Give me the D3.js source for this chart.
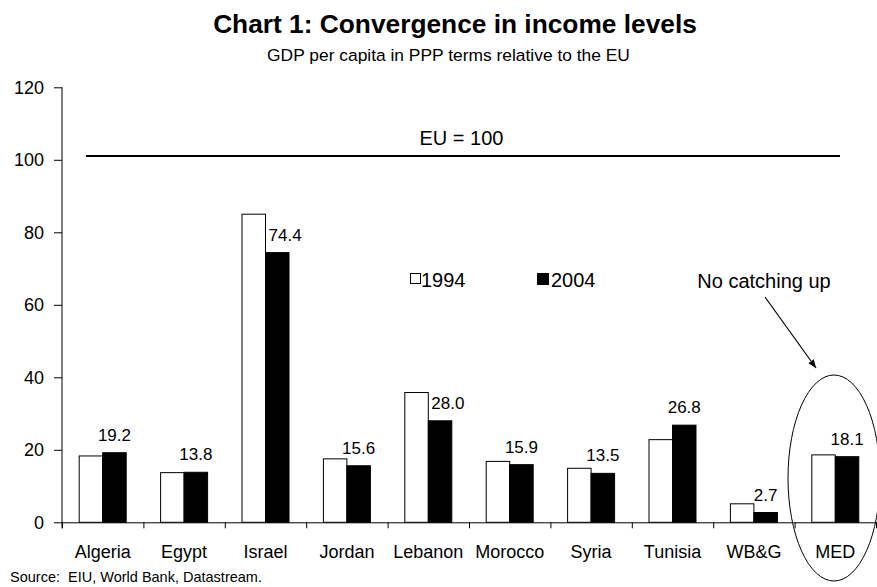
<!DOCTYPE html>
<html><head><meta charset="utf-8">
<script src="https://cdn.jsdelivr.net/npm/d3@7"></script>
<style>
body{margin:0;background:#fff}
text{font-family:"Liberation Sans",Arial,sans-serif;fill:#000}
</style>
</head><body>
<svg id="c" width="877" height="587"></svg>
<script>
const categories = ["Algeria","Egypt","Israel","Jordan","Lebanon","Morocco","Syria","Tunisia","WB&G","MED"];
const series = ["1994","2004"];
const values1994 = [18.3,13.7,85.0,17.5,35.8,16.8,14.9,22.8,5.1,18.6];
const values2004 = [19.2,13.8,74.4,15.6,28.0,15.9,13.5,26.8,2.7,18.1];
const yTicks = [0,20,40,60,80,100,120];
const euLevel = 100;
const euLabel = "EU = 100";
const titleText = "Chart 1: Convergence in income levels";
const subtitleText = "GDP per capita in PPP terms relative to the EU";
const sourceText = "Source:  EIU, World Bank, Datastream.";
const noteText = "No catching up";

const svg = d3.select("#c");
const x = d3.scaleBand().domain(categories).range([62, 876]).padding(0);
const xs = d3.scaleBand().domain(series).range([0, x.bandwidth()]).paddingInner(0).paddingOuter(0.732);
const y = d3.scaleLinear().domain([0, 120]).range([522.3, 87.3]);

// Title
svg.append("text").attr("x", 455).attr("y", 33).attr("text-anchor", "middle")
  .style("font-size", "26.3px").style("font-weight", "bold").text(titleText);
svg.append("text").attr("x", 448.5).attr("y", 61).attr("text-anchor", "middle")
  .style("font-size", "17.4px").text(subtitleText);

// Y axis
const yAxis = svg.append("g").attr("transform", "translate(62,0)")
  .call(d3.axisLeft(y).tickValues(yTicks).tickSize(8).tickPadding(10).tickSizeOuter(0));
yAxis.select(".domain").attr("d", `M0,${y(120)}V${y(0) + 6}`).attr("stroke", "#000");
yAxis.selectAll("text").style("font-size", "18px").style("font-family", '"Liberation Sans",Arial,sans-serif');

// X axis: boundary ticks
const bounds = d3.scaleLinear().domain([0, categories.length]).range([62, 876]);
const xAxis = svg.append("g").attr("transform", `translate(0,${y(0)})`)
  .call(d3.axisBottom(bounds).tickValues(d3.range(0, categories.length + 1)).tickSize(6).tickFormat("").tickSizeOuter(0));
xAxis.select(".domain").attr("stroke", "#000");
// category labels
const xLab = svg.append("g").attr("transform", `translate(0,${y(0)})`)
  .call(d3.axisBottom(x).tickSize(0).tickPadding(23));
xLab.select(".domain").remove();
xLab.selectAll("text").style("font-size", "18px").style("font-family", '"Liberation Sans",Arial,sans-serif');

// Bars
const rows = categories.map((c, i) => ({c, v1994: values1994[i], v2004: values2004[i]}));
const g = svg.append("g");
g.selectAll("rect.b94").data(rows).join("rect")
  .attr("x", d => x(d.c) + xs("1994")).attr("width", xs.bandwidth())
  .attr("y", d => y(d.v1994)).attr("height", d => y(0) - y(d.v1994))
  .attr("fill", "#fff").attr("stroke", "#000").attr("stroke-width", 1);
g.selectAll("rect.b04").data(rows).join("rect")
  .attr("x", d => x(d.c) + xs("2004")).attr("width", xs.bandwidth())
  .attr("y", d => y(d.v2004)).attr("height", d => y(0) - y(d.v2004))
  .attr("fill", "#000").attr("stroke", "#000").attr("stroke-width", 1);

// Data labels on 2004
g.selectAll("text.lab").data(rows).join("text")
  .attr("x", d => d.v1994 - d.v2004 > 4 ? x(d.c) + xs("2004") + 3 : x(d.c) + xs("2004") + xs.bandwidth() / 2)
  .attr("y", d => y(d.v2004) - 12)
  .attr("text-anchor", d => d.v1994 - d.v2004 > 4 ? "start" : "middle")
  .style("font-size", "17px").text(d => d.v2004.toFixed(1));

// EU line
const euY = y(euLevel) - 3.7;
svg.append("line").attr("x1", 86).attr("x2", 840).attr("y1", euY).attr("y2", euY)
  .attr("stroke", "#000").attr("stroke-width", 2);
svg.append("text").attr("x", 461.5).attr("y", 145).attr("text-anchor", "middle")
  .style("font-size", "20px").text(euLabel);

// Legend
const leg = svg.append("g");
leg.append("rect").attr("x", 410.5).attr("y", 273.5).attr("width", 10).attr("height", 10)
  .attr("fill", "#fff").attr("stroke", "#000");
leg.append("text").attr("x", 421).attr("y", 286.5).style("font-size", "20px").text(series[0]);
leg.append("rect").attr("x", 537.5).attr("y", 273.5).attr("width", 11).attr("height", 11)
  .attr("fill", "#000").attr("stroke", "#000");
leg.append("text").attr("x", 551).attr("y", 286.5).style("font-size", "20px").text(series[1]);

// Annotation
svg.append("text").attr("x", 764).attr("y", 288).attr("text-anchor", "middle")
  .style("font-size", "20px").text(noteText);
svg.append("defs").append("marker").attr("id", "ah").attr("viewBox", "0 0 10 10")
  .attr("refX", 10).attr("refY", 5).attr("markerWidth", 7).attr("markerHeight", 7)
  .attr("orient", "auto").append("path").attr("d", "M0,1L10,5L0,9Z").attr("fill", "#000");
svg.append("line").attr("x1", 765).attr("y1", 297).attr("x2", 816).attr("y2", 368)
  .attr("stroke", "#000").attr("stroke-width", 1.2).attr("marker-end", "url(#ah)");
svg.append("ellipse").attr("cx", 834).attr("cy", 478).attr("rx", 46).attr("ry", 103)
  .attr("fill", "none").attr("stroke", "#000").attr("stroke-width", 1);

// Source
svg.append("text").attr("x", 10).attr("y", 582).style("font-size", "14.5px")
  .style("white-space", "pre").text(sourceText);
</script>
</body></html>
